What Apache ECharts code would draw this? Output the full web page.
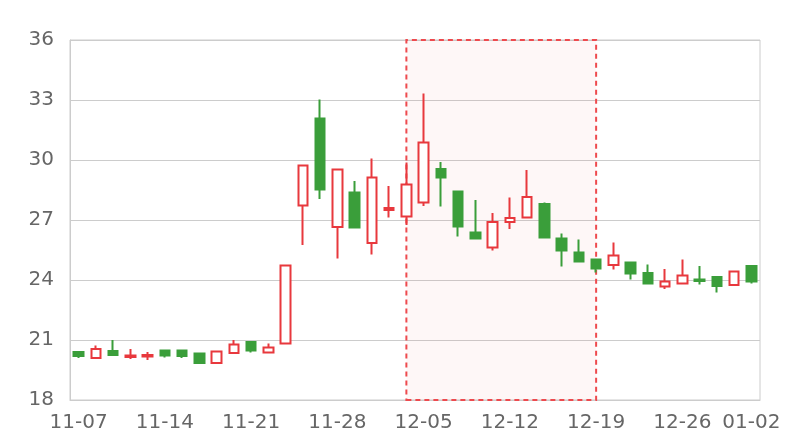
<!DOCTYPE html>
<html>
<head>
<meta charset="utf-8">
<script src="https://cdn.jsdelivr.net/npm/echarts@6/dist/echarts.min.js"></script>
<style>html,body{margin:0;padding:0;background:#fff;}#chart{width:800px;height:440px;}</style>
</head>
<body>
<div id="chart"></div>
<script>
var dates = ['11-07','11-08','11-11','11-12','11-13','11-14','11-15','11-18','11-19','11-20',
  '11-21','11-22','11-25','11-26','11-27','11-28','11-29','12-02','12-03','12-04',
  '12-05','12-06','12-09','12-10','12-11','12-12','12-13','12-16','12-17','12-18',
  '12-19','12-20','12-23','12-24','12-25','12-26','12-27','12-30','12-31','01-02'];
var opens  = [20.4,20.1,20.45,20.15,20.18,20.48,20.47,20.32,19.85,20.35,
  20.9,20.37,20.82,27.72,32.08,26.65,28.38,25.85,27.5,27.18,
  27.88,29.55,28.43,26.38,25.62,26.9,27.13,27.8,26.07,25.38,
  25.03,24.75,24.88,24.35,23.67,23.83,24.03,24.15,23.75,24.7];
var closes = [20.2,20.55,20.25,20.22,20.25,20.23,20.2,19.85,20.43,20.77,
  20.48,20.62,24.73,29.72,28.53,29.52,26.63,29.12,27.6,28.77,
  30.88,29.12,26.67,26.08,26.9,27.1,28.15,26.13,25.47,24.93,
  24.58,25.23,24.32,23.82,23.93,24.23,23.95,23.7,24.43,23.93];
var lows   = [20.1,20.1,20.25,20.05,20.0,20.13,20.1,19.83,19.85,20.35,
  20.37,20.37,20.82,25.75,28.05,25.08,26.58,25.28,27.13,26.75,
  27.7,27.67,26.17,26.08,25.48,26.55,27.13,26.13,24.67,24.87,
  24.38,24.52,24.02,23.77,23.55,23.83,23.78,23.37,23.75,23.83];
var highs  = [20.4,20.72,21.0,20.55,20.4,20.5,20.48,20.32,20.48,21.0,
  20.9,20.82,24.75,29.72,33.03,29.52,28.95,30.07,28.7,29.87,
  33.33,29.9,28.43,28.0,27.35,28.13,29.5,27.87,26.33,26.02,
  25.03,25.87,24.88,24.78,24.55,25.03,24.7,24.15,24.43,24.7];
var yTicks = [18, 21, 24, 27, 30, 33, 36];
var highlightRange = ['12-04', '12-19'];

var data = dates.map(function (d, i) {
  return [opens[i], closes[i], lows[i], highs[i]];
});

var chart = echarts.init(document.getElementById('chart'));
chart.setOption({
  animation: false,
  grid: { left: 70, right: 40, top: 40, bottom: 40, show: true, borderColor: '#ccc', borderWidth: 1, backgroundColor: 'transparent' },
  xAxis: {
    type: 'category',
    data: dates,
    boundaryGap: true,
    axisLine: { lineStyle: { color: '#ccc' } },
    axisTick: { show: false },
    axisLabel: {
      color: '#666', fontSize: 20, fontFamily: 'DejaVu Sans', margin: 13,
      interval: function (i) { return i % 5 === 0 || i === dates.length - 1; }
    },
    splitLine: { show: false }
  },
  yAxis: {
    type: 'value',
    min: yTicks[0], max: yTicks[yTicks.length - 1], interval: 3,
    axisLine: { show: true, lineStyle: { color: '#ccc' } },
    axisTick: { show: false },
    axisLabel: { color: '#666', fontSize: 20, fontFamily: 'DejaVu Sans', margin: 16 },
    splitLine: { lineStyle: { color: '#ccc' } }
  },
  series: [{
    type: 'candlestick',
    data: data,
    barWidth: 10,
    itemStyle: {
      color: '#ffffff',
      color0: '#3a9e3a',
      borderColor: '#e8383d',
      borderColor0: '#3a9e3a',
      borderWidth: 2
    },
    markArea: {
      silent: true,
      itemStyle: {
        color: 'rgba(240, 60, 60, 0.04)',
        borderColor: '#ee4a4e',
        borderWidth: 2,
        borderType: [5, 4]
      },
      data: [[{ xAxis: highlightRange[0] }, { xAxis: highlightRange[1] }]]
    }
  }]
});
</script>
</body>
</html>
